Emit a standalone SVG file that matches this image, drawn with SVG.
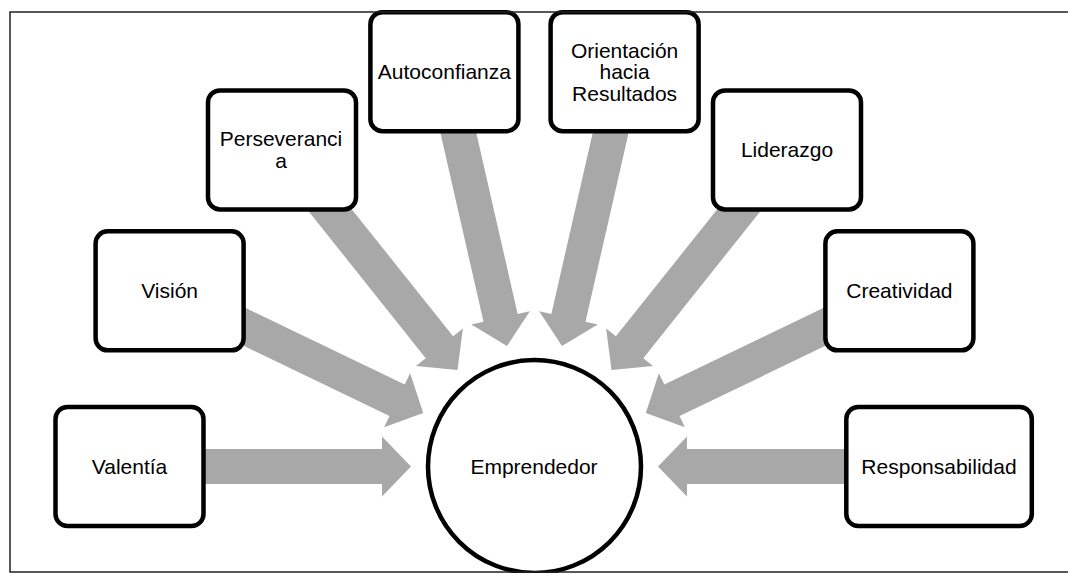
<svg xmlns="http://www.w3.org/2000/svg" xmlns:xlink="http://www.w3.org/1999/xlink" width="1068" height="573" viewBox="0 0 1068 573">
  <style>
    .box { fill: #ffffff; stroke: #000000; stroke-width: 4.5; }
    .hub { fill: #ffffff; stroke: #000000; stroke-width: 4.5; }
    .arrow { fill: #a8a8a8; stroke: none; }
    .label { font-family: "Liberation Sans", Arial, sans-serif; font-size: 21px; fill: #000000; text-anchor: middle; }
    .frame { fill: none; stroke: #222222; stroke-width: 1.5; }
  </style>
  <defs>
    <!-- block arrow pointing at the hub, tail reaching back to the box centre (radius 405) -->
    <polygon id="arrow" points="-405,-17.5 -152.5,-17.5 -152.5,-30 -123.5,0 -152.5,30 -152.5,17.5 -405,17.5"/>
  </defs>

  <rect x="0" y="0" width="1068" height="573" fill="#ffffff"/>

  <!-- converging arrows, spaced 180/7 degrees apart around the hub -->
  <g id="connectors" class="arrow">
    <use xlink:href="#arrow" transform="translate(534.5 466.5) rotate(0)"/>
    <use xlink:href="#arrow" transform="translate(534.5 466.5) rotate(25.714)"/>
    <use xlink:href="#arrow" transform="translate(534.5 466.5) rotate(51.429)"/>
    <use xlink:href="#arrow" transform="translate(534.5 466.5) rotate(77.143)"/>
    <use xlink:href="#arrow" transform="translate(534.5 466.5) rotate(102.857)"/>
    <use xlink:href="#arrow" transform="translate(534.5 466.5) rotate(128.571)"/>
    <use xlink:href="#arrow" transform="translate(534.5 466.5) rotate(154.286)"/>
    <use xlink:href="#arrow" transform="translate(534.5 466.5) rotate(180)"/>
  </g>

  <g id="node-valentia">
    <rect class="box" x="55.5" y="407" width="148" height="119" rx="12"/>
    <text class="label" x="129.5" y="473.5">Valentía</text>
  </g>

  <g id="node-vision">
    <rect class="box" x="95.6" y="231.3" width="148" height="119" rx="12"/>
    <text class="label" x="169.6" y="297.8">Visión</text>
  </g>

  <g id="node-perseverancia">
    <rect class="box" x="208" y="90.4" width="148" height="119" rx="12"/>
    <text class="label" x="281" y="146.2">Perseveranci</text>
    <text class="label" x="281" y="167.7">a</text>
  </g>

  <g id="node-autoconfianza">
    <rect class="box" x="370.4" y="12.2" width="148" height="119" rx="12"/>
    <text class="label" x="444.4" y="78.5">Autoconfianza</text>
  </g>

  <g id="node-orientacion">
    <rect class="box" x="550.6" y="12.2" width="148" height="119" rx="12"/>
    <text class="label" x="624.6" y="57.5">Orientación</text>
    <text class="label" x="624.6" y="79">hacia</text>
    <text class="label" x="624.6" y="100.5">Resultados</text>
  </g>

  <g id="node-liderazgo">
    <rect class="box" x="713" y="90.4" width="148" height="119" rx="12"/>
    <text class="label" x="787" y="156.7">Liderazgo</text>
  </g>

  <g id="node-creatividad">
    <rect class="box" x="825.4" y="231.3" width="148" height="119" rx="12"/>
    <text class="label" x="899.4" y="297.8">Creatividad</text>
  </g>

  <g id="node-responsabilidad">
    <rect class="box" x="846.3" y="407" width="185.5" height="119" rx="12"/>
    <text class="label" x="939" y="473.5">Responsabilidad</text>
  </g>

  <g id="node-emprendedor">
    <circle class="hub" cx="534.5" cy="466.5" r="106.5"/>
    <text class="label" x="534" y="474">Emprendedor</text>
  </g>

  <!-- open frame: top, left and bottom edges -->
  <path class="frame" d="M1068,12 H10 V572 H1068"/>
</svg>
